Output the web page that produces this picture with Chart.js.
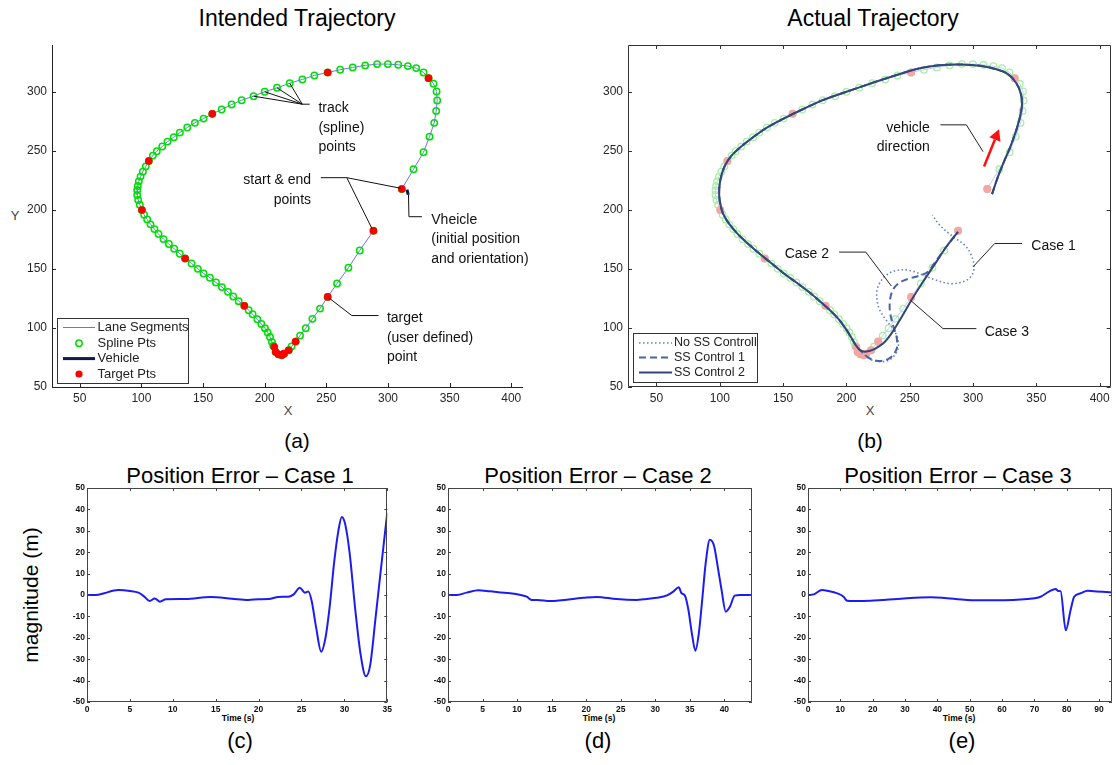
<!DOCTYPE html>
<html><head><meta charset="utf-8">
<script src="https://cdn.jsdelivr.net/npm/chart.js@4"></script>
<style>
body{margin:0;background:#fff;width:1116px;height:765px;overflow:hidden;position:relative;font-family:"Liberation Sans",Arial,sans-serif;}
canvas{position:absolute;}
.lbl{position:absolute;transform:translate(-50%,-50%);white-space:nowrap;color:#000;line-height:1;}
</style></head><body>
<div class="lbl" style="left:297px;top:18px;font-size:23px">Intended Trajectory</div>
<div class="lbl" style="left:873px;top:18px;font-size:23px">Actual Trajectory</div>
<div class="lbl" style="left:15px;top:215px;font-size:13px;color:#444">Y</div>
<div class="lbl" style="left:288px;top:410px;font-size:13px;color:#444">X</div>
<div class="lbl" style="left:870px;top:410px;font-size:13px;color:#444">X</div>
<div class="lbl" style="left:297px;top:440px;font-size:21px">(a)</div>
<div class="lbl" style="left:870px;top:440px;font-size:21px">(b)</div>
<div class="lbl" style="left:240px;top:476px;font-size:22px">Position Error – Case 1</div>
<div class="lbl" style="left:598px;top:476px;font-size:22px">Position Error – Case 2</div>
<div class="lbl" style="left:958px;top:476px;font-size:22px">Position Error – Case 3</div>
<div class="lbl" style="left:238px;top:718px;font-size:8.5px;font-weight:bold">Time (s)</div>
<div class="lbl" style="left:599px;top:718px;font-size:8.5px;font-weight:bold">Time (s)</div>
<div class="lbl" style="left:959px;top:718px;font-size:8.5px;font-weight:bold">Time (s)</div>
<div class="lbl" style="left:240px;top:741px;font-size:22px">(c)</div>
<div class="lbl" style="left:598px;top:741px;font-size:22px">(d)</div>
<div class="lbl" style="left:962px;top:741px;font-size:22px">(e)</div>
<div class="lbl" style="left:30px;top:595px;font-size:21px;transform:translate(-50%,-50%) rotate(-90deg)">magnitude (m)</div>

<canvas id="ca" width="535" height="378" style="left:0px;top:30px"></canvas>
<canvas id="cb" width="541" height="378" style="left:575px;top:30px"></canvas>
<canvas id="cc" width="345" height="236" style="left:50px;top:478px"></canvas>
<canvas id="cd" width="346" height="236" style="left:410px;top:478px"></canvas>
<canvas id="ce" width="346" height="236" style="left:770px;top:478px"></canvas>
<script>
// ---------- data ----------
const splinePts = [[311.2,217.9],[320.7,234.6],[328.8,249.0],[333.7,262.3],[337.5,274.0],[339.1,284.1],[339.9,292.9],[339.4,300.6],[336.9,307.1],
[332.9,311.9],[328.8,316.7],[322.9,320.4],[316.1,322.1],[308.3,323.2],[299.9,323.8],[291.2,323.8],[281.5,322.7],[271.4,321.0],[261.2,319.0],
[251.1,316.7],[240.3,314.2],[230.6,310.8],[220.3,307.6],[210.0,303.7],[200.0,300.3],[191.0,296.6],[181.3,293.2],[173.2,289.5],[165.1,285.3],
[157.5,281.6],[150.4,277.6],[143.4,274.0],[137.2,270.0],[131.2,265.7],[126.3,261.8],[121.2,258.1],[116.9,253.9],[112.5,249.9],[109.3,246.2],
[106.0,241.7],[103.6,237.1],[101.2,232.6],[99.3,228.4],[97.9,224.4],[97.1,220.4],[96.6,216.8],[96.6,212.8],[97.4,208.6],[98.7,204.6],
[100.4,200.1],[102.2,196.1],[104.7,192.1],[107.4,187.9],[110.6,183.9],[113.9,179.7],[117.9,175.4],[122.3,171.2],[126.6,167.2],[131.2,163.0],
[135.5,159.0],[140.7,154.8],[145.8,150.2],[150.4,146.3],[155.6,142.6],[160.5,138.6],[165.3,134.7],[170.2,130.7],[174.5,126.7],[178.9,122.8],
[183.5,118.8],[187.0,115.1],[190.2,111.7],[194.0,107.5],[197.3,103.5],[200.2,99.8],[202.4,96.2],[204.3,92.5],[205.9,88.2],[207.0,84.8],
[208.9,79.7],[211.1,77.7],[213.8,76.9],[215.7,78.3],[219.5,81.1],[221.8,84.3],[225.1,88.5],[228.7,93.6],[233.3,99.8],[238.7,107.8],[244.9,116.5],
[251.1,126.4],[258.7,137.8],[267.9,151.1],[277.1,165.8],[288.2,182.5]];
const targetPts = [[311.2,217.9],[332.9,311.9],[251.1,316.7],[157.5,281.6],[106.0,241.7],[100.4,200.1],[135.5,159.0],[183.5,118.8],
[207.8,84.0],[208.9,79.7],[211.1,77.7],[213.8,76.9],[215.7,78.3],[219.5,81.1],[225.1,88.5],[251.1,126.4],[288.2,182.5]];
const vehiclePts = [[315.4,217.4],[316.4,213.0]];
const trajCommon = [[315,213.6],[319.7,228.4],[325,242.5],[329.5,253.8],[334.2,268],[337.4,280.7],[338.7,290.7],[337.6,299.2],[334.2,307.6],
[327.6,315.3],[318.4,319.5],[305.3,322.4],[289.5,323.5],[273.7,322.9],[257.9,320.2],[240.3,314.8],[220.3,307.8],[200,300.3],[181.3,293.2],
[165.1,285.3],[150.4,277.6],[137.2,270],[126.3,261.8],[116.9,253.9],[109.3,246.2],[104.2,238],[101.3,229.5],[99.8,221],[99.5,213],
[100.4,205],[102.6,197],[107,189],[113.9,180],[122.3,171.5],[131.2,163.2],[140.7,155],[150.4,146.5],[160.5,138.6],[170.2,130.7],
[178.9,122.8],[187,115.1],[194,107.3],[199.5,99.3],[204,91.5],[207.5,85.3],[210.5,81.5]];
const case1Tail = [[213.5,78],[218,74],[222,72.3],[228.9,71.5],[234,73],[238.5,77.5],[240.8,83],[240.8,89.6],[237.6,98.1],[231.5,106.6],
[226.3,115.1],[224.2,123.6],[224.2,132.1],[227.6,140.6],[234.2,146.8],[242.1,149.3],[251.3,148.5],[260.5,144.8],[271,140.6],[281.5,137.7],
[292.1,139.2],[298.6,144],[300.8,151.9],[298.6,161.8],[293.4,170.3],[284.2,177.4],[273.6,187.3],[267.9,195.8]];
const case2Tail = [[213.5,78.5],[218,74.5],[222.5,72.6],[227.6,72.1],[232.5,73.5],[236.8,77],[239.8,83],[239.6,92.4],[236.8,102.4],
[234.4,113.7],[234.4,123.6],[236.8,132.5],[242,138.5],[250,142.2],[258,144.5],[264.4,147.6],[268.5,153.5],[278.9,168.9],[288.1,181.6]];
const case3Tail = [[214,80],[218,80.6],[222,82.2],[228.9,86.8],[235.5,95.3],[242.1,106.6],[251.3,123.6],[260.5,139.2],[271,156.1],
[278.9,168.9],[288.1,181.6]];

const err1 = [[0,0],[1,0],[2,0.8],[3,2],[3.7,2.3],[5,1.9],[6,1.1],[6.7,-0.8],[7.3,-2.8],[7.9,-1.6],[8.5,-3.1],[9.2,-2],[11.5,-1.9],
[14.4,-0.9],[16.9,-1.7],[18.8,-2.3],[20,-2],[21.2,-1.9],[22.3,-0.9],[23.5,-0.8],[24.1,0.3],[24.8,3.4],[25.4,1.1],[25.8,1.6],[26.2,-3],
[26.7,-15],[27.3,-26.5],[27.8,-20],[28.3,-5],[28.8,15],[29.3,30],[29.7,36.5],[30.1,33],[30.6,20],[31.3,-8],[31.9,-28],[32.5,-38],
[33,-33],[33.6,-12],[34.2,10],[35,38.5]];
const err2 = [[0,0],[1.3,0],[2.7,1.1],[4.4,2.2],[6.1,1.7],[9,0.8],[10.5,0],[11.4,-0.8],[12.1,-2.3],[12.9,-2.3],[14.8,-2.8],[19.6,-1.3],
[21.5,-0.9],[24.4,-1.9],[27.3,-2.3],[28.3,-2],[30.2,-1.3],[31.7,-0.2],[32.6,1.6],[33.4,3.6],[33.8,0.8],[34.3,-0.3],[34.8,-7],[35.3,-18],
[35.8,-26],[36.3,-18],[36.8,-2],[37.3,15],[37.9,25.8],[38.5,23],[39.1,12],[39.6,2.3],[40.2,-7.8],[40.8,-5.5],[41.5,-0.3],[42.3,0],[44,0]];
const err3 = [[0,0],[1.8,0.3],[4.3,2.3],[5.9,2],[9.5,0.5],[11,-0.8],[12.1,-2.7],[14.1,-2.8],[19.3,-2.7],[29.6,-1.6],[37.9,-1.1],[41.5,-1.3],
[49.2,-2.3],[57.5,-2.5],[67.8,-1.9],[71.9,-0.8],[74.5,1.6],[76.6,2.8],[77.3,1.9],[78.1,1.8],[79.7,-16.5],[81.2,-7],[82.3,-0.8],[84.3,0.8],
[86.4,2],[88.5,1.7],[94,1.2]];

const xTicksTop = [50,100,150,200,250,300,350,400];
const yTicksTop = [50,100,150,200,250,300];
const yTicksErr = [-50,-40,-30,-20,-10,0,10,20,30,40,50];
const xTicksC = [0,5,10,15,20,25,30,35];
const xTicksD = [0,5,10,15,20,25,30,35,40];
const xTicksE = [0,10,20,30,40,50,60,70,80,90];
const legendLabelsA = ['Lane Segments','Spline Pts','Vehicle','Target Pts'];
const legendLabelsB = ['No SS Controll','SS Control 1','SS Control 2'];

// ---------- helpers ----------
const FAM = '"Liberation Sans", Arial, sans-serif';
const pts = arr => arr.map(([x,y]) => ({x, y}));

const decor = {
  id: 'decor',
  afterDatasetsDraw(chart, args, o) {
    const {ctx, chartArea: a, scales: {x, y}} = chart;
    const X = v => x.getPixelForValue(v), Y = v => y.getPixelForValue(v);
    ctx.save();
    ctx.lineWidth = 1; ctx.strokeStyle = o.axisColor; ctx.setLineDash([]);
    ctx.beginPath();
    if (o.box) ctx.rect(Math.round(a.left)+0.5, Math.round(a.top)+0.5, Math.round(a.right-a.left)-1, Math.round(a.bottom-a.top)-1);
    else { ctx.moveTo(Math.round(a.left)+0.5, a.top); ctx.lineTo(Math.round(a.left)+0.5, Math.round(a.bottom)+0.5); ctx.lineTo(a.right, Math.round(a.bottom)+0.5); }
    ctx.stroke();
    const L = o.tickLen;
    ctx.beginPath();
    x.ticks.forEach(t => { const p = Math.round(X(t.value))+0.5; ctx.moveTo(p, a.bottom); ctx.lineTo(p, a.bottom-L); if (o.box) { ctx.moveTo(p, a.top); ctx.lineTo(p, a.top+L); } });
    y.ticks.forEach(t => { const p = Math.round(Y(t.value))+0.5; ctx.moveTo(a.left, p); ctx.lineTo(a.left+L, p); if (o.box) { ctx.moveTo(a.right, p); ctx.lineTo(a.right-L, p); } });
    ctx.stroke();
    // leader lines
    ctx.strokeStyle = o.leaderColor || '#000';
    (o.leaders || []).forEach(poly => {
      ctx.beginPath();
      poly.forEach(([u,v], i) => i ? ctx.lineTo(X(u), Y(v)) : ctx.moveTo(X(u), Y(v)));
      ctx.stroke();
    });
    // texts
    ctx.fillStyle = o.textColor || '#111'; ctx.font = o.textFont || ('14px ' + FAM); ctx.textBaseline = 'middle';
    (o.texts || []).forEach(t => { ctx.textAlign = t.align; ctx.fillText(t.text, X(t.x), Y(t.y)); });
    // arrow
    if (o.arrow) {
      const [[x0,y0],[x1,y1]] = o.arrow;
      const px0 = X(x0), py0 = Y(y0), px1 = X(x1), py1 = Y(y1);
      const ang = Math.atan2(py1-py0, px1-px0), hl = 11, hw = 6;
      const bx = px1 - hl*Math.cos(ang), by = py1 - hl*Math.sin(ang);
      ctx.strokeStyle = '#ff1010'; ctx.fillStyle = '#ff1010'; ctx.lineWidth = 2.5;
      ctx.beginPath(); ctx.moveTo(px0, py0); ctx.lineTo(bx, by); ctx.stroke();
      ctx.beginPath(); ctx.moveTo(px1, py1);
      ctx.lineTo(bx + hw*Math.sin(ang), by - hw*Math.cos(ang));
      ctx.lineTo(bx - hw*Math.sin(ang), by + hw*Math.cos(ang));
      ctx.closePath(); ctx.fill();
    }
    // legend
    if (o.legend) {
      const g = o.legend;
      const x0 = Math.round(a.left + g.dx), y0 = Math.round(a.bottom - g.dy - g.h);
      ctx.fillStyle = '#fff'; ctx.fillRect(x0, y0, g.w, g.h);
      ctx.strokeStyle = '#333'; ctx.lineWidth = 1; ctx.setLineDash([]);
      ctx.strokeRect(x0+0.5, y0+0.5, g.w, g.h);
      ctx.font = g.font; ctx.textAlign = 'left'; ctx.textBaseline = 'middle';
      g.items.forEach((it, i) => {
        const yy = y0 + g.rows[i];
        const s0 = x0 + g.s0, s1 = x0 + g.s1, sm = (s0+s1)/2;
        if (it.kind === 'line') {
          ctx.strokeStyle = it.color; ctx.lineWidth = it.width; ctx.setLineDash(it.dash || []);
          ctx.beginPath(); ctx.moveTo(s0, yy); ctx.lineTo(s1, yy); ctx.stroke(); ctx.setLineDash([]);
        } else if (it.kind === 'circle') {
          ctx.strokeStyle = it.color; ctx.lineWidth = 1.5;
          ctx.beginPath(); ctx.arc(sm, yy, 3.2, 0, Math.PI*2); ctx.stroke();
        } else {
          ctx.fillStyle = it.color; ctx.beginPath(); ctx.arc(sm, yy, 3.6, 0, Math.PI*2); ctx.fill();
        }
        ctx.fillStyle = '#222'; ctx.fillText(it.label, x0 + g.tx, yy);
      });
    }
    ctx.restore();
  }
};

function axis(min, max, ticks, size, isX, pad, font, color) {
  return {
    type: 'linear', min, max,
    afterBuildTicks: s => { s.ticks = ticks.map(v => ({value: v})); },
    afterFit: s => { if (isX) s.height = size; else s.width = size; },
    grid: {display: false, drawTicks: false, tickLength: 0}, border: {display: false},
    ticks: {padding: pad, font, color, autoSkip: false, maxRotation: 0, minRotation: 0}
  };
}

function makeChart(id, datasets, scales, padding, decorOpts) {
  return new Chart(document.getElementById(id), {
    type: 'scatter',
    data: {datasets},
    options: {
      responsive: false, animation: false, events: [],
      layout: {padding},
      scales,
      plugins: {legend: {display: false}, tooltip: {enabled: false}, decor: decorOpts}
    },
    plugins: [decor]
  });
}

const topTickFont = {size: 12, family: FAM};
const errTickFont = {size: 8.5, family: FAM, weight: 'bold'};

// ---------- (a) Intended Trajectory ----------
makeChart('ca', [
  {data: pts(targetPts), order: 1, pointRadius: 3.8, pointBackgroundColor: '#ff0000', pointBorderWidth: 0, showLine: false},
  {data: pts(vehiclePts), order: 2, showLine: true, borderColor: '#0d1b4a', borderWidth: 3, pointRadius: 0},
  {data: pts(splinePts), order: 3, showLine: false, pointRadius: 3.2, pointBorderColor: '#00e000', pointBackgroundColor: 'rgba(0,0,0,0)', pointBorderWidth: 1.5},
  {data: pts(splinePts), order: 4, showLine: true, borderColor: '#6f6fff', borderWidth: 1, pointRadius: 0}
], {
  x: axis(27.5, 409.5, xTicksTop, 21, true, 4, topTickFont, '#262626'),
  y: axis(50, 340, yTicksTop, 52, false, 5, topTickFont, '#262626')
}, {top: 15, right: 12, left: 0, bottom: 0}, {
  box: false, axisColor: '#222', tickLen: 4, leaderColor: '#111', textColor: '#111', textFont: '14px ' + FAM,
  leaders: [
    [[191.0,296.6],[230.5,289.8],[236.5,289.8]], [[200.0,300.3],[230.5,289.8]], [[210.0,303.7],[230.5,289.8]], [[220.3,307.6],[230.5,289.8]],
    [[245.5,227.5],[266.6,227.5],[310.4,218.5]], [[266.6,227.5],[286.9,184.5]],
    [[316.6,213.2],[317.0,194.4],[327.5,194.4]],
    [[251.1,126.4],[270.6,110.6],[292.3,110.6]]
  ],
  texts: [
    {text: 'track', x: 243.6, y: 286.4, align: 'left'},
    {text: '(spline)', x: 243.6, y: 269.6, align: 'left'},
    {text: 'points', x: 243.6, y: 253.2, align: 'left'},
    {text: 'start & end', x: 237.6, y: 225.0, align: 'right'},
    {text: 'points', x: 237.6, y: 208.3, align: 'right'},
    {text: 'Vheicle', x: 335.1, y: 191.6, align: 'left'},
    {text: '(initial position', x: 335.1, y: 175.1, align: 'left'},
    {text: 'and orientation)', x: 335.1, y: 158.7, align: 'left'},
    {text: 'target', x: 299.1, y: 108.0, align: 'left'},
    {text: '(user defined)', x: 299.1, y: 91.6, align: 'left'},
    {text: 'point', x: 299.1, y: 75.2, align: 'left'}
  ],
  legend: {dx: 5, dy: 4, w: 131, h: 65, s0: 6, s1: 38, tx: 40.5, rows: [9.5, 25.3, 40.6, 56], font: '13px ' + FAM,
    items: [
      {label: legendLabelsA[0], kind: 'line', color: '#6f6fff', width: 1},
      {label: legendLabelsA[1], kind: 'circle', color: '#00e000'},
      {label: legendLabelsA[2], kind: 'line', color: '#0d1b4a', width: 3},
      {label: legendLabelsA[3], kind: 'dot', color: '#ff0000'}
    ]}
});

// ---------- (b) Actual Trajectory ----------
const traj1 = trajCommon.concat(case1Tail), traj2 = trajCommon.concat(case2Tail), traj3 = trajCommon.concat(case3Tail);
makeChart('cb', [
  {data: pts(traj3), order: 1, showLine: true, borderColor: '#34467a', borderWidth: 2, pointRadius: 0, tension: 0.35},
  {data: pts(traj2), order: 2, showLine: true, borderColor: '#4a63a6', borderWidth: 2, borderDash: [7, 4], pointRadius: 0, tension: 0.35},
  {data: pts(traj1), order: 3, showLine: true, borderColor: '#6680c8', borderWidth: 1.6, borderDash: [1.5, 2.5], pointRadius: 0, tension: 0.35},
  {data: pts(targetPts), order: 4, pointRadius: 4, pointBackgroundColor: '#f7a4a4', pointBorderWidth: 0, showLine: false},
  {data: pts(splinePts), order: 5, showLine: false, pointRadius: 3.3, pointBorderColor: '#a9eea9', pointBackgroundColor: 'rgba(0,0,0,0)', pointBorderWidth: 1.3},
  {data: pts(splinePts), order: 6, showLine: true, borderColor: '#c6ccf2', borderWidth: 1, pointRadius: 0}
], {
  x: axis(27.5, 408.7, xTicksTop, 21, true, 4, topTickFont, '#262626'),
  y: axis(50, 340, yTicksTop, 53, false, 5, topTickFont, '#262626')
}, {top: 15, right: 5, left: 0, bottom: 0}, {
  box: true, axisColor: '#333', tickLen: 4, leaderColor: '#222', textColor: '#111', textFont: '14px ' + FAM,
  leaders: [
    [[274.2,272.3],[294.7,272.3],[307.9,249.6]],
    [[338.7,171.7],[317.1,171.7],[300.0,151.9]],
    [[194.2,164.4],[215.3,164.4],[235.5,135.6]],
    [[302.6,99.5],[276.3,99.5],[250.5,123.6]]
  ],
  texts: [
    {text: 'vehicle', x: 265.8, y: 269.4, align: 'right'},
    {text: 'direction', x: 265.8, y: 253.0, align: 'right'},
    {text: 'Case 1', x: 346.0, y: 169.5, align: 'left'},
    {text: 'Case 2', x: 186.3, y: 162.4, align: 'right'},
    {text: 'Case 3', x: 309.2, y: 96.7, align: 'left'}
  ],
  arrow: [[308.7,236.9],[320.5,268.6]],
  legend: {dx: 5, dy: 5, w: 124, h: 49, s0: 6, s1: 39, tx: 41, rows: [10, 24.5, 39.5], font: '12.5px ' + FAM,
    items: [
      {label: legendLabelsB[0], kind: 'line', color: '#6680c8', width: 1.5, dash: [1.5, 2.5]},
      {label: legendLabelsB[1], kind: 'line', color: '#4a63a6', width: 2, dash: [7, 4]},
      {label: legendLabelsB[2], kind: 'line', color: '#34467a', width: 2}
    ]}
});

// ---------- (c)(d)(e) Position Error ----------
function errChart(id, data, xmax, xticks, yw, rightPad) {
  makeChart(id, [
    {data: pts(data), showLine: true, borderColor: '#1c1cf2', borderWidth: 2, pointRadius: 0, cubicInterpolationMode: 'monotone'}
  ], {
    x: axis(0, xmax, xticks, 12, true, 3, errTickFont, '#111'),
    y: axis(-50, 50, yTicksErr, yw, false, 2, errTickFont, '#111')
  }, {top: 10, right: rightPad, left: 0, bottom: 0}, {box: true, axisColor: '#444', tickLen: 3});
}
errChart('cc', err1, 35, xTicksC, 37, 5);
errChart('cd', err2, 44, xTicksD, 38, 4);
errChart('ce', err3, 94, xTicksE, 38, 4);
</script>
</body></html>
